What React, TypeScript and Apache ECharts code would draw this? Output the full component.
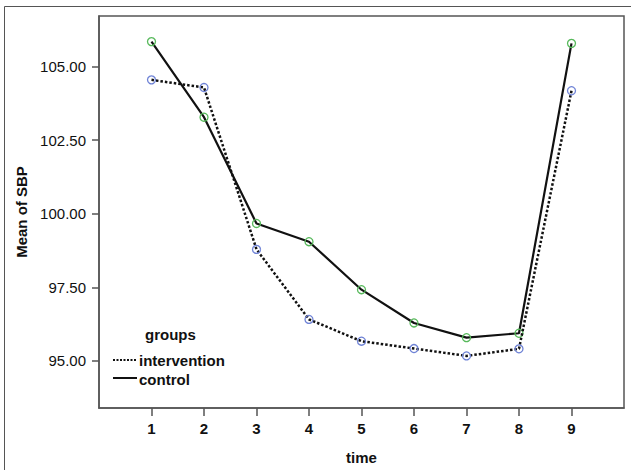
import React, { useEffect, useRef } from "react";
import * as echarts from "echarts";

const times = [1, 2, 3, 4, 5, 6, 7, 8, 9];
const intervention = [104.55, 104.29, 98.79, 96.41, 95.67, 95.42, 95.17, 95.41, 104.18];
const control = [105.85, 103.28, 99.67, 99.05, 97.42, 96.29, 95.79, 95.94, 105.79];
const yTicks = [95, 97.5, 100, 102.5, 105];
const xTicks = [1, 2, 3, 4, 5, 6, 7, 8, 9];
const seriesNames = ["intervention", "control"];
const legendTitle = "groups";
const xTitle = "time";
const yTitle = "Mean of SBP";

const FONT = "'Liberation Sans', Arial, sans-serif";

export default function App() {
  const ref = useRef<HTMLDivElement>(null);
  useEffect(() => {
    if (!ref.current) return;
    const chart = echarts.init(ref.current, null, { renderer: "svg" });
    const axisColor = "#555";
    const option: any = {
      animation: false,
      backgroundColor: "#fff",
      textStyle: { fontFamily: FONT },
      grid: {
        left: 99,
        top: 16,
        right: 7,
        bottom: 61,
        show: true,
        borderColor: axisColor,
        borderWidth: 1.5,
        backgroundColor: "transparent",
      },
      xAxis: {
        type: "value",
        min: 0,
        max: 10,
        name: xTitle,
        nameLocation: "middle",
        nameGap: 42,
        nameTextStyle: { fontFamily: FONT, fontSize: 15, fontWeight: "bold", color: "#111" },
        axisLine: { show: true, lineStyle: { color: axisColor, width: 1.5 } },
        axisTick: { show: true, length: 8, lineStyle: { color: axisColor, width: 1.5 }, customValues: xTicks },
        axisLabel: {
          margin: 13,
          fontFamily: FONT,
          fontSize: 15,
          fontWeight: "bold",
          color: "#111",
          customValues: xTicks,
          formatter: (v: number) => String(v),
        },
        splitLine: { show: false },
      },
      yAxis: {
        type: "value",
        min: 93.4,
        max: 106.72,
        name: yTitle,
        nameLocation: "middle",
        nameGap: 70,
        nameTextStyle: { fontFamily: FONT, fontSize: 15, fontWeight: "bold", color: "#111" },
        axisLine: { show: true, lineStyle: { color: axisColor, width: 1.5 } },
        axisTick: { show: true, length: 7, lineStyle: { color: axisColor, width: 1.5 }, customValues: yTicks },
        axisLabel: {
          margin: 13,
          fontFamily: FONT,
          fontSize: 15,
          color: "#111",
          customValues: yTicks,
          formatter: (v: number) => v.toFixed(2),
        },
        splitLine: { show: false },
      },
      series: [
        {
          name: seriesNames[0],
          type: "line",
          data: times.map((t, i) => [t, intervention[i]]),
          symbol: "circle",
          symbolSize: 8,
          lineStyle: { color: "#111", width: 2.5, type: [2.5, 2] },
          itemStyle: { color: "rgba(0,0,0,0)", borderColor: "#6f83d6", borderWidth: 1.3 },
          z: 3,
        },
        {
          name: seriesNames[1],
          type: "line",
          data: times.map((t, i) => [t, control[i]]),
          symbol: "circle",
          symbolSize: 8,
          lineStyle: { color: "#111", width: 2.2, type: "solid" },
          itemStyle: { color: "rgba(0,0,0,0)", borderColor: "#57b95b", borderWidth: 1.3 },
          z: 2,
        },
      ],
      graphic: [
        {
          type: "rect",
          silent: true,
          z: -10,
          shape: { x: 4.5, y: 6.5, width: 700, height: 600 },
          style: { fill: "none", stroke: "#555", lineWidth: 1 },
        },
        {
          type: "text",
          x: 145,
          y: 334,
          style: { text: legendTitle, font: `bold 15px ${FONT}`, fill: "#111", verticalAlign: "middle" },
        },
        {
          type: "line",
          shape: { x1: 113, y1: 360, x2: 136, y2: 360 },
          style: { stroke: "#111", lineWidth: 2, lineDash: [2, 1.5] },
        },
        {
          type: "text",
          x: 139,
          y: 360,
          style: { text: seriesNames[0], font: `bold 15px ${FONT}`, fill: "#111", verticalAlign: "middle" },
        },
        {
          type: "line",
          shape: { x1: 113, y1: 378, x2: 137, y2: 378 },
          style: { stroke: "#111", lineWidth: 2 },
        },
        {
          type: "text",
          x: 139,
          y: 379,
          style: { text: seriesNames[1], font: `bold 15px ${FONT}`, fill: "#111", verticalAlign: "middle" },
        },
      ],
    };
    chart.setOption(option);
    return () => chart.dispose();
  }, []);
  return (
    <div
      ref={ref}
      style={{ position: "fixed", left: 0, top: 0, width: 631, height: 470, background: "#fff" }}
    />
  );
}
